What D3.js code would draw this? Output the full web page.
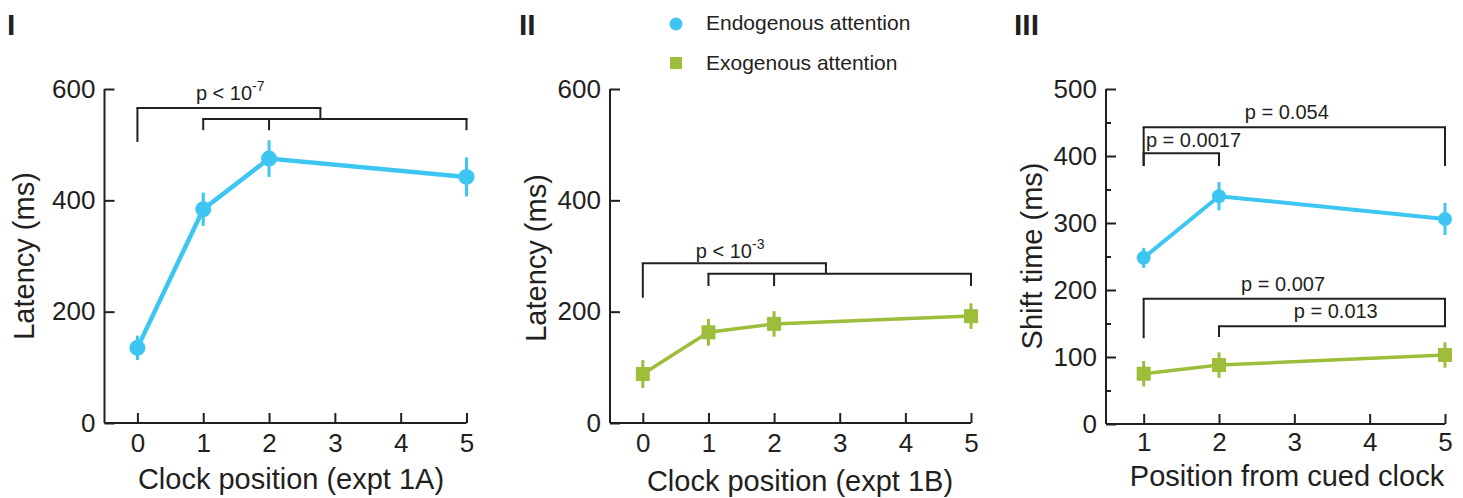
<!DOCTYPE html>
<html>
<head>
<meta charset="utf-8">
<script src="https://cdn.jsdelivr.net/npm/d3@7"></script>
<style>
  body { margin: 0; background: #fff; }
  svg { display: block; font-family: "Liberation Sans", Arial, sans-serif; }
  .domain, .tick line { stroke: #231f20; stroke-width: 2px; }
  .tick text { fill: #231f20; font-size: 26px; }
</style>
</head>
<body>
<div id="chart"></div>
<script>
// Panel I - endogenous latency (expt 1A)
const posA = [0, 1, 2, 5];
const latA = [135, 384, 475, 442];
const errA = [22, 30, 33, 35];

// Panel II - exogenous latency (expt 1B)
const posB = [0, 1, 2, 5];
const latB = [88, 163, 178, 192];
const errB = [25, 24, 23, 23];

// Panel III - shift time from cued clock
const posC = [1, 2, 5];
const endoShift = [248, 340, 306];
const endoShiftErr = [15, 21, 24];
const exoShift = [75, 88, 103];
const exoShiftErr = [19, 19, 19];

const ticksAB = [0, 1, 2, 3, 4, 5];
const ticksC = [1, 2, 3, 4, 5];
const yTicksAB = [0, 200, 400, 600];
const yTicksC = [0, 100, 200, 300, 400, 500];
const yMinorC = [50, 150, 250, 350, 450];

// significance brackets: [x1, x2, y, drops [x, yEnd]]
const bracketsA = [
  [0, 2.78, 566, [[0, 505], [2.78, 546]]],
  [1, 5, 546, [[1, 526], [2, 526], [5, 526]]],
];
const bracketsB = [
  [0, 2.79, 287, [[0, 225], [2.79, 268]]],
  [1, 5, 268, [[1, 246], [2, 246], [5, 246]]],
];
const bracketsC = [
  [1, 5, 443, [[1, 385], [5, 385]]],
  [1, 2, 404, [[1, 385], [2, 385]]],
  [1, 5, 187, [[1, 128], [5, 146]]],
  [2, 5, 146, [[2, 130], [5, 146]]],
];
// p labels: [x, y, anchor, main, superscript]
const labelsA = [[1.41, 580, "middle", "p < 10", "-7"]];
const labelsB = [[1.33, 296, "middle", "p < 10", "-3"]];
const labelsC = [
  [2.9, 455, "middle", "p = 0.054", ""],
  [1.03, 413, "start", "p = 0.0017", ""],
  [2.85, 199, "middle", "p = 0.007", ""],
  [3.55, 158, "middle", "p = 0.013", ""],
];

const endoColor = "#3ec6f2";
const exoColor = "#9dbd3b";
const ink = "#231f20";

const svg = d3.select("#chart").append("svg")
  .attr("width", 1463).attr("height", 498);

function drawPanel(cfg) {
  const x = d3.scaleLinear().domain(cfg.xDomain).range([cfg.left, cfg.right]);
  const y = d3.scaleLinear().domain(cfg.yDomain).range([cfg.bottom, cfg.top]);
  const g = svg.append("g");

  // axes with inward ticks
  g.append("g")
    .attr("transform", `translate(0,${cfg.bottom})`)
    .call(d3.axisBottom(x).tickValues(cfg.xTicks).tickFormat(d3.format("d"))
      .tickSizeInner(-10).tickSizeOuter(0).tickPadding(cfg.xPad))
    .call((a) => a.select(".domain").attr("d", `M${cfg.left},0H${cfg.right}`));

  g.append("g")
    .attr("transform", `translate(${cfg.left},0)`)
    .call(d3.axisLeft(y).tickValues(cfg.yTicks).tickFormat(d3.format("d"))
      .tickSizeInner(-10).tickSizeOuter(0).tickPadding(9))
    .call((a) => a.select(".domain").attr("d", `M0,${cfg.top}V${cfg.bottom}`));

  if (cfg.yMinor) {
    g.append("g")
      .attr("transform", `translate(${cfg.left},0)`)
      .call(d3.axisLeft(y).tickValues(cfg.yMinor).tickSizeInner(-5).tickSizeOuter(0).tickFormat(""))
      .call((a) => a.select(".domain").remove());
  }

  // axis titles
  g.append("text")
    .attr("x", cfg.xTitleX).attr("y", cfg.xTitleY)
    .attr("text-anchor", "middle").attr("fill", ink).style("font-size", "29px")
    .text(cfg.xTitle);
  g.append("text")
    .attr("transform", `translate(${cfg.yTitleX},${cfg.yTitleY}) rotate(-90)`)
    .attr("text-anchor", "middle").attr("fill", ink).style("font-size", "29px")
    .text(cfg.yTitle);

  // panel letter
  g.append("text")
    .attr("x", cfg.letterX).attr("y", 35)
    .attr("fill", ink).style("font-size", "30px").style("font-weight", "bold")
    .text(cfg.letter);

  // brackets
  cfg.brackets.forEach(([x1, x2, yy, drops]) => {
    g.append("line")
      .attr("x1", x(x1) - 1).attr("x2", x(x2) + 1)
      .attr("y1", y(yy)).attr("y2", y(yy))
      .attr("stroke", ink).attr("stroke-width", 2);
    drops.forEach(([dx, dy]) => {
      g.append("line")
        .attr("x1", x(dx)).attr("x2", x(dx))
        .attr("y1", y(yy)).attr("y2", y(dy))
        .attr("stroke", ink).attr("stroke-width", 2);
    });
  });

  cfg.labels.forEach(([lx, ly, anchor, main, sup]) => {
    const t = g.append("text")
      .attr("x", x(lx)).attr("y", y(ly))
      .attr("text-anchor", anchor).attr("fill", ink).style("font-size", "20px")
      .text(main);
    if (sup) {
      t.append("tspan").attr("dy", -9).style("font-size", "14px").text(sup);
    }
  });

  // series
  cfg.series.forEach((s) => {
    const pts = s.pos.map((p, i) => ({ p, v: s.vals[i], e: s.errs[i] }));
    g.append("path")
      .datum(pts)
      .attr("fill", "none").attr("stroke", s.color).attr("stroke-width", s.lineWidth)
      .attr("d", d3.line().x((d) => x(d.p)).y((d) => y(d.v)));

    g.selectAll(null).data(pts).enter().append("line")
      .attr("x1", (d) => x(d.p)).attr("x2", (d) => x(d.p))
      .attr("y1", (d) => y(d.v - d.e)).attr("y2", (d) => y(d.v + d.e))
      .attr("stroke", s.color).attr("stroke-width", 3);

    if (s.shape === "circle") {
      g.selectAll(null).data(pts).enter().append("circle")
        .attr("cx", (d) => x(d.p)).attr("cy", (d) => y(d.v))
        .attr("r", s.size).attr("fill", s.color);
    } else {
      g.selectAll(null).data(pts).enter().append("rect")
        .attr("x", (d) => x(d.p) - s.size).attr("y", (d) => y(d.v) - s.size)
        .attr("width", s.size * 2).attr("height", s.size * 2).attr("fill", s.color);
    }
  });
}

drawPanel({
  letter: "I", letterX: 7,
  left: 104.5, right: 466.5, top: 89, bottom: 423, xPad: 11,
  xDomain: [-0.5, 5], yDomain: [0, 600],
  xTicks: ticksAB, yTicks: yTicksAB,
  xTitle: "Clock position (expt 1A)", xTitleX: 291, xTitleY: 489,
  yTitle: "Latency (ms)", yTitleX: 34, yTitleY: 256,
  brackets: bracketsA, labels: labelsA,
  series: [{ pos: posA, vals: latA, errs: errA, color: endoColor, lineWidth: 4.5, shape: "circle", size: 8 }],
});

drawPanel({
  letter: "II", letterX: 519,
  left: 610, right: 971, top: 89, bottom: 423, xPad: 11,
  xDomain: [-0.5, 5], yDomain: [0, 600],
  xTicks: ticksAB, yTicks: yTicksAB,
  xTitle: "Clock position (expt 1B)", xTitleX: 800, xTitleY: 491,
  yTitle: "Latency (ms)", yTitleX: 546, yTitleY: 258,
  brackets: bracketsB, labels: labelsB,
  series: [{ pos: posB, vals: latB, errs: errB, color: exoColor, lineWidth: 3.5, shape: "square", size: 7 }],
});

drawPanel({
  letter: "III", letterX: 1014,
  left: 1106, right: 1445, top: 89, bottom: 424, xPad: 9,
  xDomain: [0.5, 5], yDomain: [0, 500],
  xTicks: ticksC, yTicks: yTicksC, yMinor: yMinorC,
  xTitle: "Position from cued clock", xTitleX: 1287, xTitleY: 486,
  yTitle: "Shift time (ms)", yTitleX: 1042, yTitleY: 256,
  brackets: bracketsC, labels: labelsC,
  series: [
    { pos: posC, vals: endoShift, errs: endoShiftErr, color: endoColor, lineWidth: 4, shape: "circle", size: 7 },
    { pos: posC, vals: exoShift, errs: exoShiftErr, color: exoColor, lineWidth: 3.5, shape: "square", size: 7 },
  ],
});

// legend
const legend = svg.append("g");
legend.append("circle").attr("cx", 676).attr("cy", 24).attr("r", 6.5).attr("fill", endoColor);
legend.append("rect").attr("x", 670).attr("y", 57).attr("width", 12).attr("height", 12).attr("fill", exoColor);
legend.append("text").attr("x", 706).attr("y", 30).attr("fill", ink).style("font-size", "21px").text("Endogenous attention");
legend.append("text").attr("x", 706).attr("y", 70).attr("fill", ink).style("font-size", "21px").text("Exogenous attention");
</script>
</body>
</html>
